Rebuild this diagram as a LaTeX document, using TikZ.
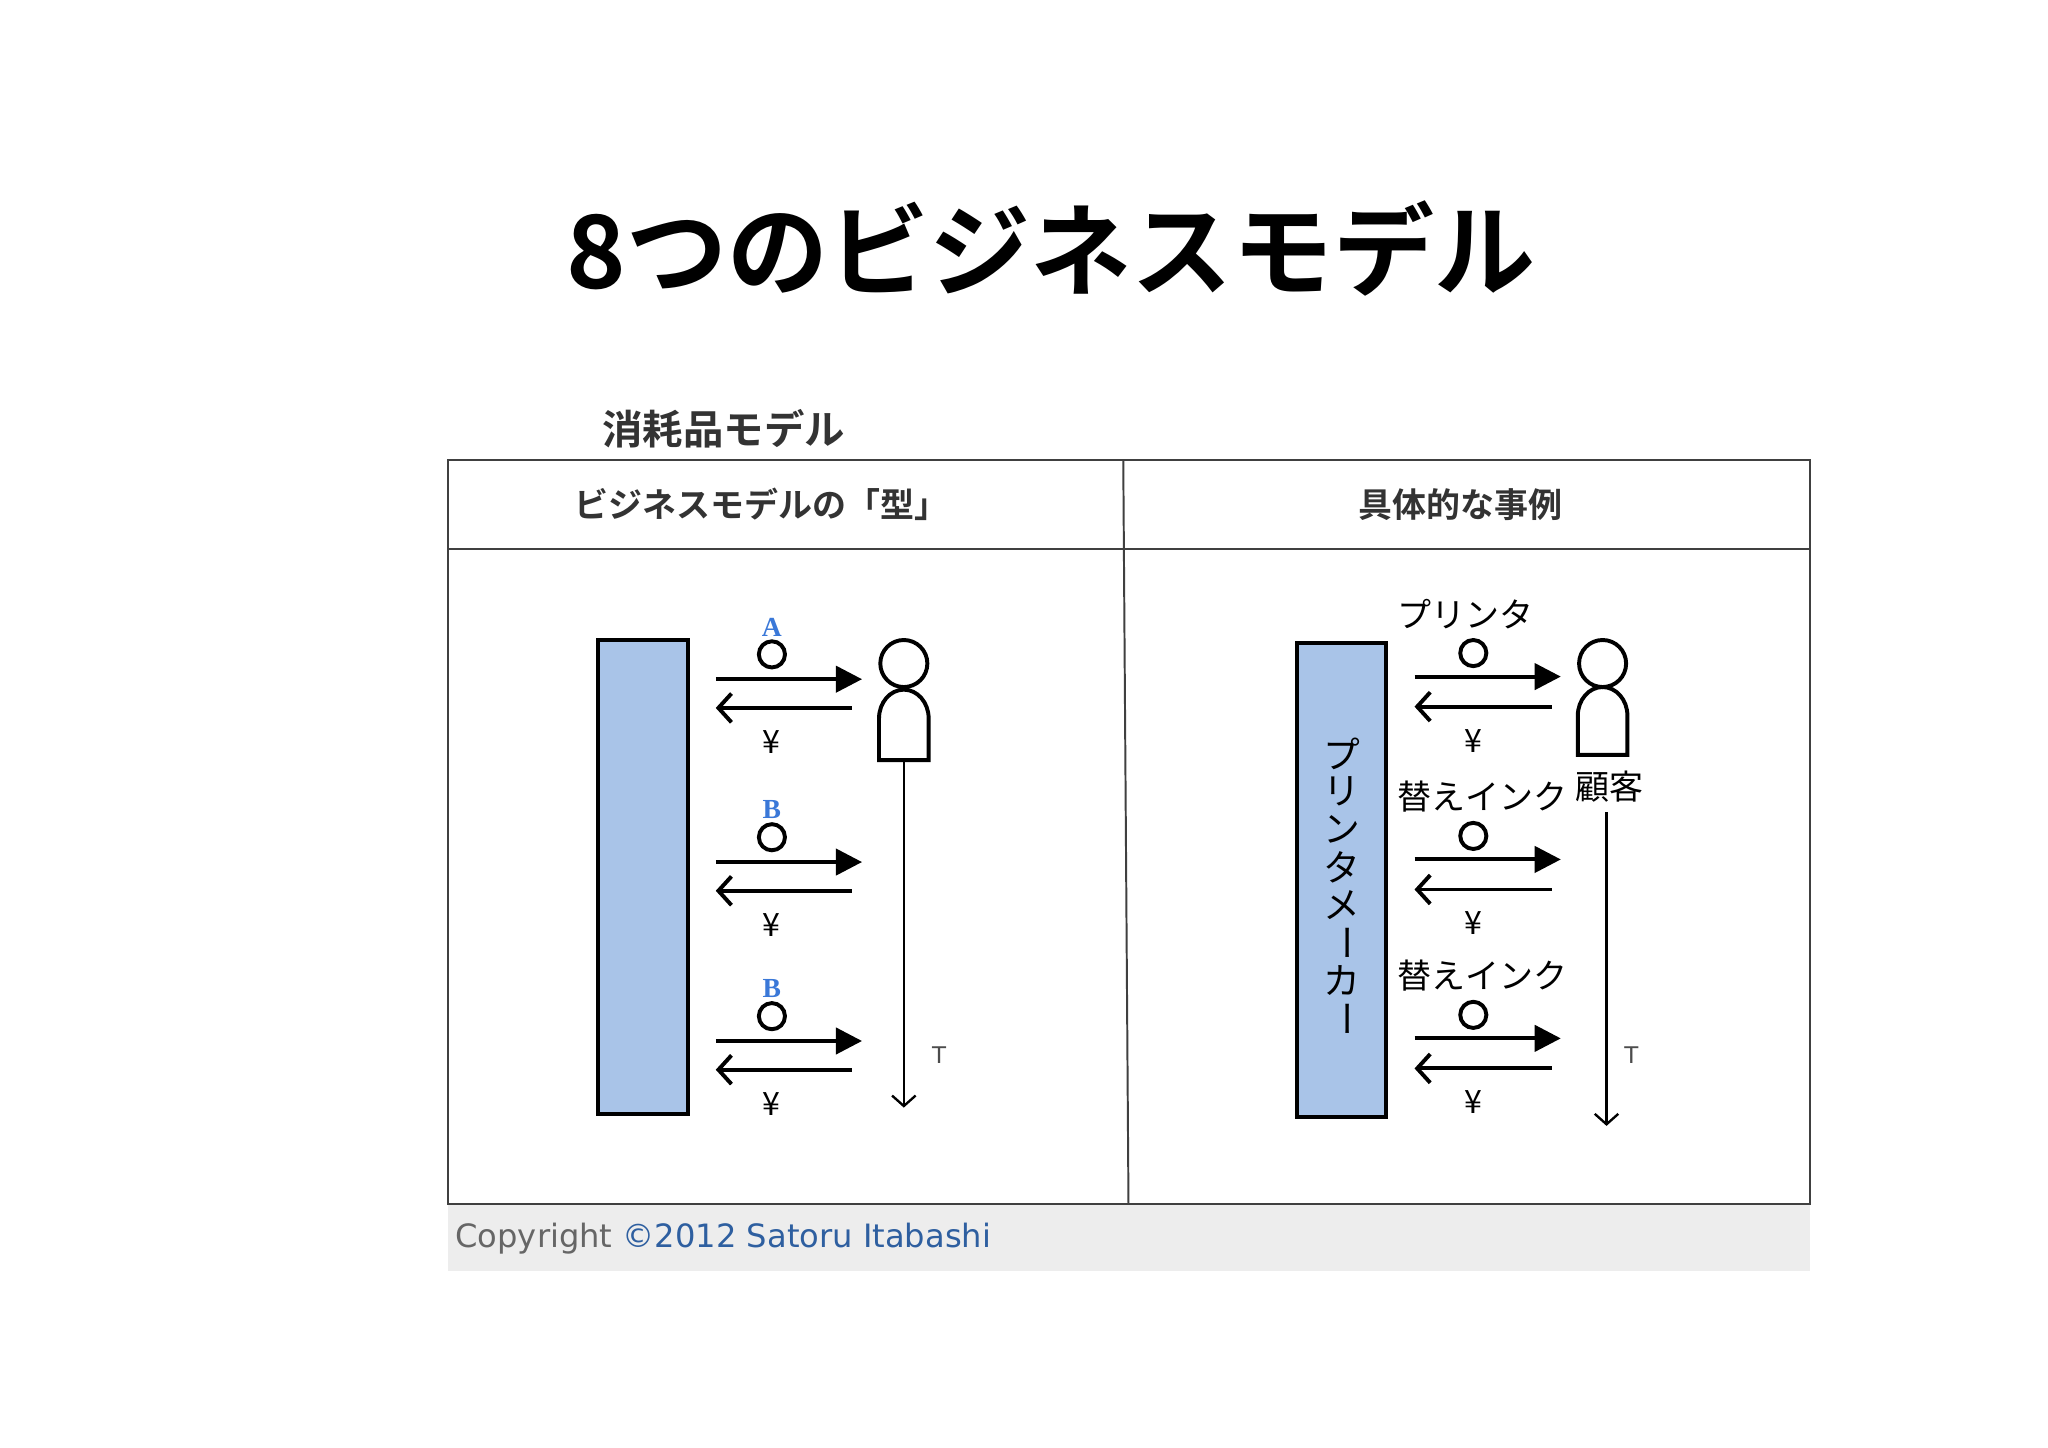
\documentclass[tikz,border=0pt]{standalone}
\usepackage{fontspec}
\setmainfont{Noto Sans CJK JP}
\newfontfamily\jpb{Noto Sans CJK JP Bold}
\newfontfamily\cjp{Noto Sans CJK JP}
\newfontfamily\dv{DejaVu Sans}
\newfontfamily\serifb{Liberation Serif}
\usetikzlibrary{arrows.meta}
\definecolor{boxblue}{HTML}{A9C4E8}
\definecolor{lblue}{HTML}{3A78D8}
\definecolor{cblue}{HTML}{2E5FA0}
\begin{document}
\begin{tikzpicture}[x=0.01cm,y=-0.01cm,
  thk/.style={line width=0.03cm},
  org/.style={thk,draw=black,fill=boxblue},
  fwd/.style={thk,-{Triangle[length=0.2cm,width=0.2cm]}},
  bwd/.style={thk,-{Straight Barb[length=0.1cm,width=0.22cm,line width=0.03cm]}},
  coin/.style={circle,draw,thk,minimum size=0.2cm,inner sep=0pt},
  yen/.style={font=\cjp\fontsize{7}{8}\selectfont},
  lab/.style={font=\cjp\fontsize{7.4}{8}\selectfont},
  vch/.style={font=\cjp\fontsize{8}{9}\selectfont},
  ab/.style={font=\serifb\bfseries\fontsize{6}{7}\selectfont,text=lblue},
  tl/.style={line width=0.018cm,-{Straight Barb[length=0.08cm,width=0.18cm,line width=0.018cm]}},
  tt/.style={font=\dv\fontsize{5}{6}\selectfont,text=black!70}]
\useasboundingbox (0,0) rectangle (1568,1108);
\fill[white] (0,0) rectangle (1568,1108);
\node (title) at (805,190) {\jpb\fontsize{22}{24}\selectfont 8つのビジネスモデル};
\node[text=black!80] (sub) at (554,328) {\jpb\fontsize{8.8}{10}\selectfont 消耗品モデル};
% table
\fill[black!7] (343,922) rectangle (1386,973);
\draw[line width=0.015cm,black!75] (343,352) rectangle (1386,922);
\draw[line width=0.015cm,black!75] (343,420) -- (1386,420);
\draw[line width=0.015cm,black!75] (860,352) -- (864,922);
\node[text=black!80] (h1) at (583,386) {\jpb\fontsize{7.4}{8}\selectfont ビジネスモデルの「型」};
\node[text=black!80] (h2) at (1118,386) {\jpb\fontsize{7.4}{8}\selectfont 具体的な事例};
\node[anchor=west,inner sep=0pt] (copy) at (348,948) {\dv\fontsize{7}{8}\selectfont\textcolor{black!60}{Copyright} \textcolor{cblue}{©2012 Satoru Itabashi}};
% left panel
\draw[org] (458,490) rectangle (527,853);
\foreach \dy/\l [count=\i] in {0/A,140/B,277/B}{
  \node[ab] (L\i) at (591,480+\dy) {\l};
  \node[coin] (c\i) at (591,501+\dy) {};
  \coordinate (fa\i) at (548,520+\dy); \coordinate (fb\i) at (660,520+\dy);
  \coordinate (ba\i) at (652,542+\dy); \coordinate (bb\i) at (548,542+\dy);
  \draw[fwd] (fa\i) -- (fb\i);
  \draw[bwd] (ba\i) -- (bb\i);
  \node[yen] (y\i) at (591,568+\dy) {¥};
}
\node[circle,draw,thk,minimum size=0.36cm,inner sep=0pt] (head1) at (692,508) {};
\draw[thk] (673,582) -- (673,550) arc[start angle=180,end angle=0,x radius=19,y radius=-22] -- (711,582) -- cycle;
\coordinate (t1a) at (692,582); \coordinate (t1b) at (692,848);
\draw[tl] (t1a) -- (t1b);
\node[tt] (T1) at (719,808) {T};
% right panel
\draw[org] (993,492) rectangle (1061,855);
\foreach \ch/\r [count=\i] in {プ/0,リ/0,ン/0,タ/0,メ/0,ー/-90,カ/0,ー/-90}{
  \node[vch,rotate=\r] (v\i) at (1027,548+29*\i) {\ch};
}
\foreach \dy/\l/\lx [count=\i] in {0/プリンタ/1122,140/替えインク/1135,277/替えインク/1135}{
  \node[lab] (R\i) at (\lx,470+\dy) {\l};
  \node[coin] (rc\i) at (1128,500+\dy) {};
  \coordinate (rfa\i) at (1083,518+\dy); \coordinate (rfb\i) at (1195,518+\dy);
  \coordinate (rba\i) at (1188,541+\dy); \coordinate (rbb\i) at (1083,541+\dy);
  \draw[fwd] (rfa\i) -- (rfb\i);
  \draw[bwd] (rba\i) -- (rbb\i);
  \node[yen] (ry\i) at (1128,567+\dy) {¥};
}
\node[circle,draw,thk,minimum size=0.36cm,inner sep=0pt] (head2) at (1227,508) {};
\draw[thk] (1208,578) -- (1208,548) arc[start angle=180,end angle=0,x radius=19,y radius=-22] -- (1246,578) -- cycle;
\node[lab] (kokyaku) at (1232,602) {顧客};
\coordinate (t2a) at (1230,622); \coordinate (t2b) at (1230,862);
\draw[tl] (t2a) -- (t2b);
\node[tt] (T2) at (1249,808) {T};
\end{tikzpicture}
\end{document}
